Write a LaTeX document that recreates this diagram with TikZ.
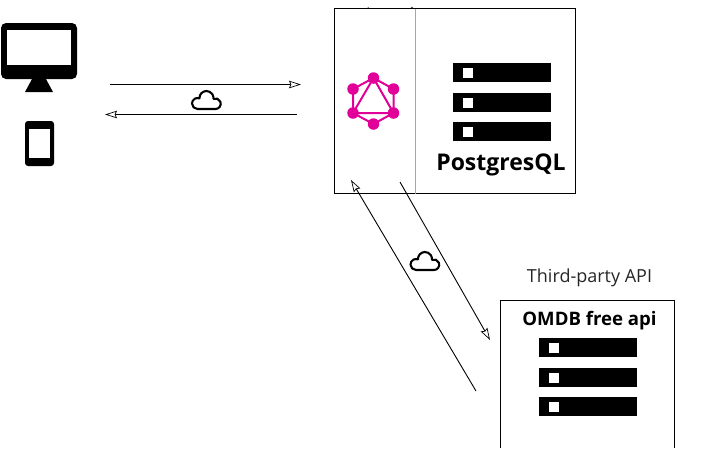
\documentclass[tikz,border=0pt]{standalone}
\usepackage{fontspec}
\setmainfont{Open Sans}
\usetikzlibrary{arrows.meta}
\definecolor{graphqlpink}{RGB}{225,0,152}
\tikzset{
    link/.style={draw=black, line width=0.9pt, -{Stealth[fill=white, length=12pt, width=7.5pt, inset=1.5pt, line width=0.7pt]}},
    barbox/.style={fill=black, minimum width=98pt, minimum height=19pt, inner sep=0pt, outer sep=0pt},
    barlight/.style={fill=white, minimum size=10pt, inner sep=0pt, outer sep=0pt},
    panel/.style={draw=black, line width=0.9pt, inner sep=0pt, outer sep=0pt},
    dot/.style={circle, fill=graphqlpink, minimum size=11.5pt, inner sep=0pt}
}
\newcommand{\cloudmark}[2]{%
    \begin{scope}[shift={(#1,#2)}]
        \draw[line width=2.1pt, line join=round] (-8.5,9)
            arc[start angle=90, end angle=291, radius=5.5]
            arc[start angle=177, end angle=366.6, radius=7]
            arc[start angle=247.3, end angle=450, radius=5.3] -- cycle;
    \end{scope}
}
\begin{document}
\begin{tikzpicture}[x=1pt, y=-1pt]
    \useasboundingbox (0,0) rectangle (722,448);

    % Monitor and phone
    \fill[rounded corners=5pt] (1,23) rectangle (77,79);
    \fill[white] (7,30) rectangle (71,65);
    \fill (32,79) -- (46,79) -- (53,92) -- (25,92) -- cycle;
    \fill[rounded corners=3pt] (25,121) rectangle (54,166);
    \fill[white] (29,129) rectangle (50,158);

    % Main box with its divider
    \node[panel, minimum width=241pt, minimum height=185pt] (mainbox) at (455,101) {};
    \draw[gray!70, line width=0.9pt] (415.5,8.5) -- (415.5,193.5);
    \draw[line width=0.6pt] (368,7) -- (368.5,8.5);
    \draw[line width=0.6pt] (413,8) -- (411,7);

    % GraphQL logo
    \foreach \name/\x/\y in {top/373.5/78, ur/393.5/89, lr/393.5/113, bot/373.5/124, ll/353/113, ul/353/89} {
        \node[dot] (g\name) at (\x,\y) {};
    }
    \draw[graphqlpink, line width=2pt] (gtop.center) -- (gur.center) -- (glr.center) -- (gbot.center) -- (gll.center) -- (gul.center) -- cycle;
    \draw[graphqlpink, line width=2pt] (gtop.center) -- (glr.center) -- (gll.center) -- cycle;

    % Server bars in main box
    \foreach \i/\y in {1/72.5, 2/102.5, 3/131.5} {
        \node[barbox] (pgbar\i) at (502,\y) {};
        \node[barlight] (pglight\i) at (468,\y) {};
    }
    \node[font=\fontsize{23}{27}\bfseries\selectfont] (pglabel) at (501,165) {PostgresQL};

    % Third-party box runs off the page
    \node[font=\fontsize{18}{22}\selectfont, text=black!85] (apilabel) at (589.5,278) {Third-party API};
    \draw[line width=0.9pt] (500.5,448) -- (500.5,300.5) -- (674.5,300.5) -- (674.5,448);
    \node[font=\fontsize{18.6}{22}\bfseries\selectfont] (omdblabel) at (589.5,321) {OMDB free api};
    \foreach \i/\y in {1/347.5, 2/377.5, 3/406.5} {
        \node[barbox] (apibar\i) at (588,\y) {};
        \node[barlight] (apilight\i) at (554,\y) {};
    }

    % Arrow ends
    \coordinate (clientout) at (110,84.5);
    \coordinate (serverin) at (301,84.5);
    \coordinate (serverout) at (297,114.5);
    \coordinate (clientin) at (105,114.5);
    \coordinate (apiout) at (476,391);
    \coordinate (dbin) at (351,180);
    \coordinate (dbout) at (400,182);
    \coordinate (apiin) at (490,340);

    \draw[link] (clientout) -- (serverin);
    \draw[link] (serverout) -- (clientin);
    \draw[link] (apiout) -- (dbin);
    \draw[link] (dbout) -- (apiin);

    % Clouds
    \cloudmark{206}{100}
    \cloudmark{424.5}{261}

\end{tikzpicture}
\end{document}
